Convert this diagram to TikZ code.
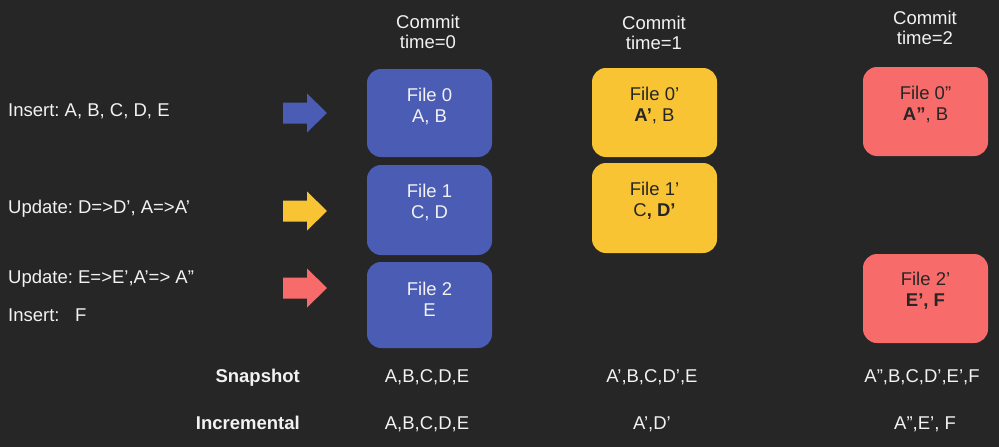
\documentclass[tikz,border=0pt]{standalone}
\usepackage{fontspec}
\setmainfont{Liberation Sans}
\frenchspacing
\definecolor{bg}{HTML}{262626}
\definecolor{bluebox}{HTML}{4A5CB4}
\definecolor{yellowbox}{HTML}{F9C433}
\definecolor{redbox}{HTML}{F86B6B}
\definecolor{lighttext}{HTML}{F2F2F2}
\definecolor{darktext}{HTML}{262626}
\begin{document}
\frenchspacing
\begin{tikzpicture}[x=1pt,y=-1pt,
  font=\fontsize{18.5}{21}\selectfont\frenchspacing,
  filebox/.style={rounded corners=14pt, minimum width=125pt, inner sep=0pt, draw=none},
  boxtext/.style={align=center, inner sep=0pt},
  lefttext/.style={anchor=base west, inner sep=0pt, text=lighttext},
  rowlabel/.style={anchor=base east, inner sep=0pt, text=lighttext, font=\fontsize{18.5}{21}\selectfont\bfseries},
  rowval/.style={anchor=base, inner sep=0pt, text=lighttext},
  header/.style={align=center, inner sep=0pt, text=lighttext, font=\fontsize{18.5}{20}\selectfont},
  fatarrow/.pic={\fill[pic actions] (0,-10.5) -- (24,-10.5) -- (24,-19.5) -- (44,0) -- (24,19.5) -- (24,10.5) -- (0,10.5) -- cycle;}
]
\fill[bg] (0,0) rectangle (999,447);
\useasboundingbox (0,0) rectangle (999,447);

% headers
\node[header] (h0) at (428,31.5) {Commit\\time=0};
\node[header] (h1) at (654,32.5) {Commit\\time=1};
\node[header] (h2) at (925,28) {Commit\\time=2};

% left operations
\node[lefttext] (op1) at (8,116.6) {Insert: A, B, C, D, E};
\node[lefttext] (op2) at (8,213.6) {Update: D=>D', A=>A'};
\node[lefttext] (op3) at (8,283.6) {Update: E=>E',A'=> A''};
\node[lefttext] (op4) at (8,321.6) {Insert:\ \ \ F};

% arrows
\pic[fill=bluebox] (arr0) at (283,113) {fatarrow};
\pic[fill=yellowbox] (arr1) at (283,211) {fatarrow};
\pic[fill=redbox] (arr2) at (283,288) {fatarrow};

% commit 0 boxes
\node[filebox, fill=bluebox, minimum height=88pt] (b0) at (429.5,113) {};
\node[filebox, fill=bluebox, minimum height=90pt] (b1) at (429.5,210) {};
\node[filebox, fill=bluebox, minimum height=86pt] (b2) at (429.5,305) {};
\node[boxtext, text=lighttext] (b0t) at (429.5,106.5) {File 0\\A, B};
\node[boxtext, text=lighttext] (b1t) at (429.5,202.5) {File 1\\C, D};
\node[boxtext, text=lighttext] (b2t) at (429.5,299) {File 2\\E};

% commit 1 boxes
\node[filebox, fill=yellowbox, minimum height=89pt] (y0) at (654.5,112.5) {};
\node[filebox, fill=yellowbox, minimum height=90pt] (y1) at (654.5,208) {};
\node[boxtext, text=darktext] (y0t) at (654.5,105.5) {File 0'\\\textbf{A'}, B};
\node[boxtext, text=darktext] (y1t) at (654.5,200.5) {File 1'\\C\textbf{, D'}};

% commit 2 boxes
\node[filebox, fill=redbox, minimum height=89pt] (r0) at (925.5,111.5) {};
\node[filebox, fill=redbox, minimum height=89pt] (r2) at (925.5,298.5) {};
\node[boxtext, text=darktext] (r0t) at (925.5,104.5) {File 0''\\\textbf{A''}, B};
\node[boxtext, text=darktext] (r2t) at (925.5,291) {File 2'\\\textbf{E', F}};

% bottom rows
\node[rowlabel] (snap) at (300,382.6) {Snapshot};
\node[rowlabel] (incr) at (300,429.6) {Incremental};
\node[rowval] (s0) at (427,382.6) {A,B,C,D,E};
\node[rowval] (s1) at (652,382.6) {A',B,C,D',E};
\node[rowval] (s2) at (922,382.6) {A'',B,C,D',E',F};
\node[rowval] (i0) at (427,429.6) {A,B,C,D,E};
\node[rowval] (i1) at (652,429.6) {A',D'};
\node[rowval] (i2) at (925,429.6) {A'',E', F};
\end{tikzpicture}
\end{document}
